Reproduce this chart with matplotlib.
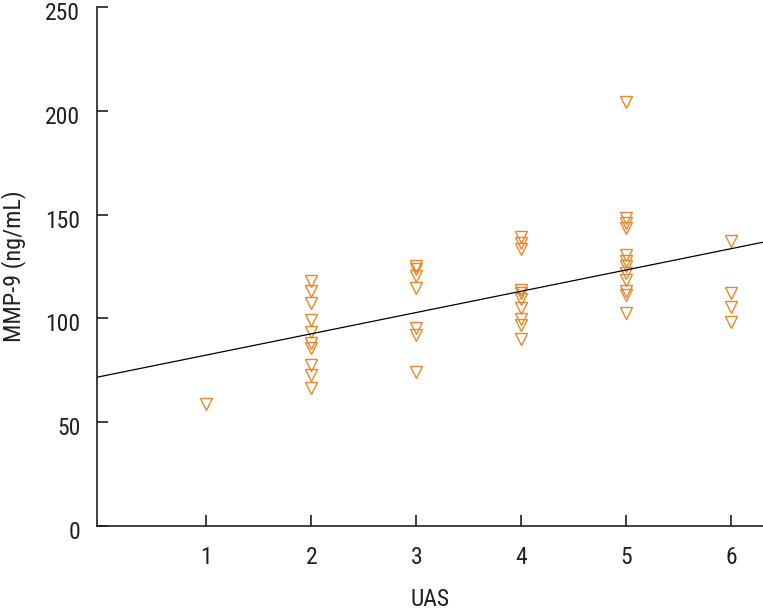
import matplotlib
matplotlib.use("Agg")
import matplotlib.pyplot as plt
import matplotlib.transforms as mtransforms
import numpy as np

# ---- data ----
uas_1 = [59]
uas_2 = [118, 113, 107.4, 99, 93.5, 88, 85.6, 77.5, 72.7, 66.3]
uas_3 = [125, 123.8, 120.3, 114.7, 95.4, 92, 74.4]
uas_4 = [139, 136.5, 133.5, 113.9, 112, 109.4, 105, 99.5, 97, 90]
uas_5 = [204, 148.4, 146, 143.6, 130.7, 127.5, 125, 122, 118.7, 113, 111.5, 102.6]
uas_6 = [137.5, 112, 105.5, 98.4]
groups = [uas_1, uas_2, uas_3, uas_4, uas_5, uas_6]
x_ticks = [1, 2, 3, 4, 5, 6]
y_ticks = [0, 50, 100, 150, 200, 250]
fit_intercept = 72.1
fit_slope = 10.25

plt.rcParams['font.family'] = ['Roboto Condensed', 'DejaVu Sans']

fig = plt.figure(figsize=(7.63, 6.14), dpi=100)
ax = fig.add_axes([0.127, 0.143, 0.873, 0.846])

orange = '#E8872A'
for xv, vals in zip(x_ticks, groups):
    ax.plot([xv] * len(vals), vals, linestyle='none', marker='v', markersize=8.5,
            markerfacecolor='none', markeredgecolor=orange, markeredgewidth=1.0,
            clip_on=False)

xlim = (-0.04, 6.3)
xs = np.array(xlim)
ax.plot(xs, fit_intercept + fit_slope * xs, color='black', linewidth=0.9)

ax.set_xlim(*xlim)
ax.set_ylim(0, 250)
ax.set_xticks(x_ticks)
ax.set_yticks(y_ticks)
ax.spines['top'].set_visible(False)
ax.spines['right'].set_visible(False)
for s in ['left', 'bottom']:
    ax.spines[s].set_linewidth(1.2)
    ax.spines[s].set_color('#231f20')
ax.tick_params(direction='in', length=8, width=1.2, colors='#231f20',
               labelsize=17, pad=12)
ax.tick_params(axis='x', pad=14)
ax.set_xlabel('UAS', fontsize=17, color='#231f20', labelpad=14)
ax.set_ylabel('MMP-9 (ng/mL)', fontsize=17.5, color='#231f20', labelpad=14)

offset = mtransforms.ScaledTranslation(0, -4 / 100, fig.dpi_scale_trans)
for lab in ax.get_yticklabels():
    lab.set_transform(lab.get_transform() + offset)

fig.savefig('out.png', dpi=100)
